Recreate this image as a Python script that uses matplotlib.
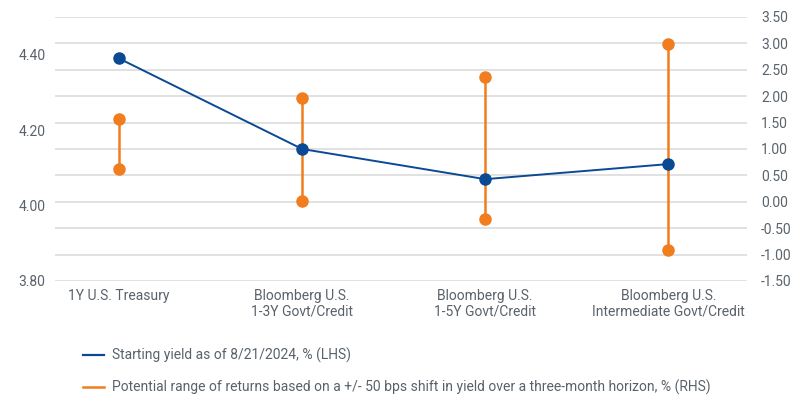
import matplotlib.pyplot as plt
from matplotlib.lines import Line2D
import numpy as np

# --- dados ---
categories = ['1Y U.S. Treasury', 'Bloomberg U.S.\n1-3Y Govt/Credit',
              'Bloomberg U.S.\n1-5Y Govt/Credit', 'Bloomberg U.S.\nIntermediate Govt/Credit']
start_yield = [4.39, 4.15, 4.07, 4.11]          # LHS
ret_high = [1.57, 1.97, 2.37, 2.98]             # RHS
ret_low = [0.63, 0.02, -0.33, -0.92]            # RHS
left_ticks = [3.80, 4.00, 4.20, 4.40]
right_ticks = [-1.5, -1.0, -0.5, 0.0, 0.5, 1.0, 1.5, 2.0, 2.5, 3.0, 3.5]

blue = '#0a4a94'
orange = '#f07d1e'
txt = '#59626b'
grid_c = '#dcdcdc'

plt.rcParams['font.family'] = ['Roboto', 'DejaVu Sans']

fig = plt.figure(figsize=(8, 3.99), dpi=100)
ax = fig.add_axes([55/800, 1-281/399, (747-55)/800, (281-17)/399])
ax2 = ax.twinx()

x = np.arange(len(categories))

# eixo direito: grade e faixas de retorno
ax2.set_ylim(-1.5, 3.5)
ax2.set_yticks(right_ticks)
ax2.set_yticklabels([f'{v:.2f}' for v in right_ticks])
for v in right_ticks:
    ax2.axhline(v, color=grid_c, lw=1.2, zorder=0)
for xi, lo, hi in zip(x, ret_low, ret_high):
    ax2.plot([xi, xi], [lo, hi], color=orange, lw=1.8, zorder=2)
ax2.plot(x, ret_high, 'o', color=orange, ms=8, zorder=3)
ax2.plot(x, ret_low, 'o', color=orange, ms=8, zorder=3)

# eixo esquerdo: yield inicial
ax.set_ylim(3.8, 4.5)
ax.set_yticks(left_ticks)
ax.set_yticklabels([f'{v:.2f}' for v in left_ticks])
ax.set_zorder(ax2.get_zorder() + 1)
ax.patch.set_visible(False)
ax.plot(x, start_yield, color=blue, lw=1.4, marker='o', ms=8, zorder=4)

ax.set_xlim(-0.35, 3.43)
ax.set_xticks(x)
ax.set_xticklabels(categories, fontsize=10, color=txt, linespacing=1.1)

for a in (ax, ax2):
    for s in a.spines.values():
        s.set_visible(False)
    a.tick_params(length=0, labelsize=10, labelcolor=txt)
ax.tick_params(axis='y', pad=7)
ax2.tick_params(axis='y', pad=10)
ax.tick_params(axis='x', pad=6)

handles = [
    Line2D([], [], color=blue, lw=1.6),
    Line2D([], [], color=orange, lw=1.8),
]
labels = ['Starting yield as of 8/21/2024, % (LHS)',
          'Potential range of returns based on a +/- 50 bps shift in yield over a three-month horizon, % (RHS)']
fig.legend(handles, labels, loc='upper left', bbox_to_anchor=(0.097, 0.143),
           frameon=False, fontsize=10, labelcolor=txt, handlelength=1.5,
           handletextpad=0.6, labelspacing=1.2, borderaxespad=0)

fig.savefig('out.png', dpi=100)
